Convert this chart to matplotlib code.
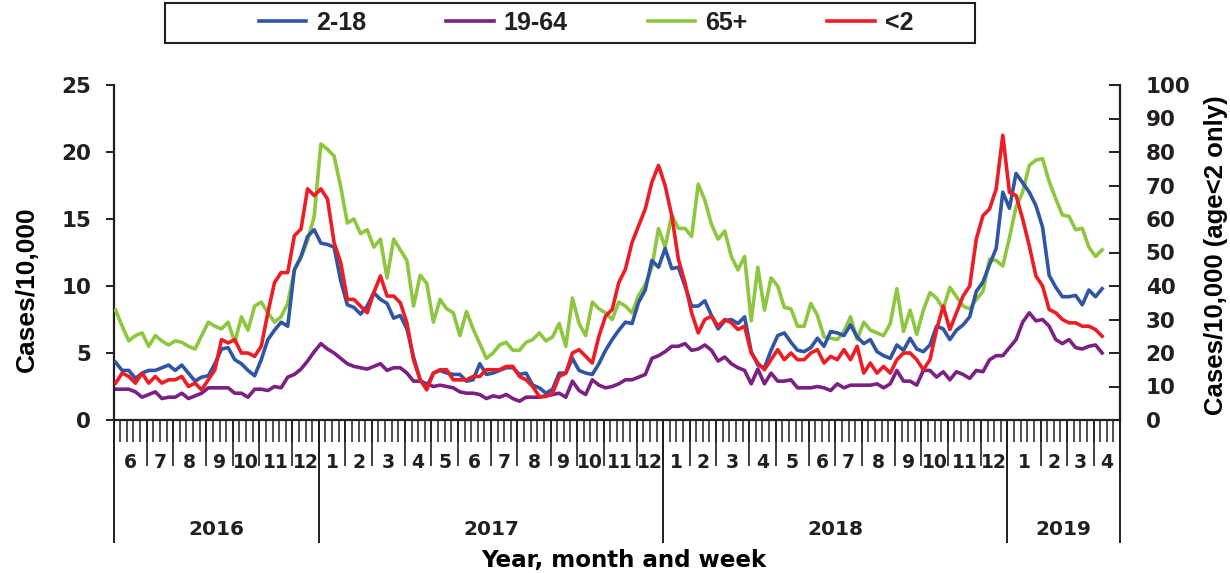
import numpy as np
import matplotlib.pyplot as plt
from matplotlib.patches import Rectangle

# weekly rates, cases per 10,000 (from 2016 week 22)
age_2_18 = [4.3, 3.7, 3.7, 3.1, 3.5, 3.7, 3.7, 3.9, 4.1, 3.7, 4.1, 3.5, 2.9, 3.2, 3.3, 4.2, 5.3, 5.4, 4.5, 4.2,
            3.7, 3.3, 4.5, 6.0, 6.7, 7.3, 7.0, 11.2, 12.2, 13.7, 14.2, 13.2, 13.1, 12.9, 10.4, 8.6, 8.4, 7.9, 8.5,
            9.5, 9.0, 8.7, 7.6, 7.8, 6.8, 4.7, 3.0, 2.5, 3.5, 3.7, 3.5, 3.4, 3.4, 2.9, 3.0, 4.2, 3.4, 3.5, 3.7,
            3.9, 3.9, 3.4, 3.5, 2.6, 2.4, 2.0, 2.3, 3.5, 3.5, 4.6, 3.7, 3.5, 3.4, 4.2, 5.2, 6.0, 6.7,
            7.3, 7.2, 8.8, 9.7, 11.9, 11.4, 12.8, 11.3, 11.4, 10.0, 8.5, 8.5, 8.9, 7.8, 6.8, 7.4, 7.5, 7.2, 7.7,
            5.1, 4.1, 3.9, 5.2, 6.3, 6.5, 5.8, 5.2, 5.1, 5.4, 6.1, 5.5, 6.6, 6.5, 6.3, 7.1, 6.2,
            5.7, 6.0, 5.1, 4.8, 4.6, 5.6, 5.2, 6.1, 5.3, 5.1, 5.6, 7.0, 6.8, 6.0, 6.7, 7.1, 7.7, 9.6, 10.3, 11.6,
            12.8, 17.0, 15.8, 18.4, 17.7, 17.0, 16.0, 14.4, 10.8, 9.9, 9.2, 9.2, 9.3, 8.6, 9.7, 9.2, 9.8]
age_19_64 = [2.3, 2.3, 2.3, 2.1, 1.7, 1.9, 2.1, 1.6, 1.7, 1.7, 2.0, 1.6, 1.8, 2.0, 2.4, 2.4, 2.4, 2.4, 2.0, 2.0,
             1.7, 2.3, 2.3, 2.2, 2.5, 2.4, 3.2, 3.4, 3.8, 4.4, 5.1, 5.7, 5.3, 5.0, 4.6, 4.2, 4.0, 3.9, 3.8,
             4.0, 4.2, 3.7, 3.9, 3.9, 3.5, 2.9, 2.9, 2.7, 2.5, 2.6, 2.5, 2.4, 2.1, 2.0, 2.0, 1.9, 1.6, 1.8, 1.7,
             1.9, 1.6, 1.4, 1.7, 1.7, 1.7, 1.8, 1.9, 2.0, 1.7, 2.9, 2.2, 1.9, 3.0, 2.6, 2.4, 2.5, 2.7,
             3.0, 3.0, 3.2, 3.4, 4.6, 4.8, 5.1, 5.5, 5.5, 5.7, 5.2, 5.3, 5.6, 5.2, 4.4, 4.7, 4.2, 3.9, 3.7,
             2.7, 3.8, 2.7, 3.5, 2.9, 2.9, 3.0, 2.4, 2.4, 2.4, 2.5, 2.4, 2.2, 2.7, 2.4, 2.6, 2.6,
             2.6, 2.6, 2.7, 2.4, 2.7, 3.7, 2.9, 2.9, 2.6, 3.7, 3.7, 3.2, 3.6, 3.0, 3.6, 3.4, 3.1, 3.7, 3.6, 4.5,
             4.8, 4.8, 5.4, 6.0, 7.3, 8.0, 7.4, 7.5, 7.0, 6.0, 5.7, 6.0, 5.4, 5.3, 5.5, 5.6, 5.0]
age_65_plus = [8.2, 7.0, 5.9, 6.3, 6.5, 5.5, 6.3, 5.9, 5.6, 5.9, 5.8, 5.5, 5.3, 6.3, 7.3, 7.0, 6.8, 7.3, 5.8, 7.7,
               6.7, 8.5, 8.8, 8.0, 7.3, 7.7, 8.7, 11.2, 12.1, 13.4, 15.2, 20.6, 20.2, 19.7, 17.4, 14.7, 15.0, 13.9, 14.2,
               12.9, 13.5, 10.6, 13.5, 12.7, 11.9, 8.5, 10.8, 10.2, 7.3, 9.0, 8.3, 8.0, 6.3, 8.1, 6.8, 5.7, 4.6, 5.0, 5.6,
               5.8, 5.2, 5.2, 5.8, 6.0, 6.5, 5.9, 6.2, 7.2, 5.5, 9.1, 7.2, 6.3, 8.8, 8.3, 8.0, 7.5, 8.8,
               8.5, 8.0, 9.3, 10.1, 11.4, 14.3, 12.9, 15.3, 14.3, 14.3, 13.7, 17.6, 16.4, 14.6, 13.5, 14.1, 12.2, 11.2, 12.2,
               7.4, 11.4, 8.2, 10.6, 10.0, 8.4, 8.3, 7.0, 7.0, 8.7, 7.8, 6.2, 6.1, 6.0, 6.6, 7.7, 6.0,
               7.3, 6.7, 6.5, 6.3, 7.2, 9.8, 6.6, 8.2, 6.4, 8.2, 9.5, 9.1, 8.3, 9.9, 9.2, 8.5, 8.3, 9.0, 9.6, 12.0,
               11.9, 11.5, 13.6, 15.9, 17.0, 19.0, 19.4, 19.5, 17.8, 16.5, 15.3, 15.2, 14.2, 14.3, 12.9, 12.2, 12.7]
# <2 is on the right-hand axis
age_under_2 = [11, 14, 13, 11, 14, 11, 13, 11, 12, 12, 13, 10, 11, 9, 12, 15, 24, 23, 24, 20,
               20, 19, 22, 32, 41, 44, 44, 55, 57, 69, 67, 69, 66, 53, 47, 36, 36, 34, 32,
               38, 43, 37, 37, 35, 29, 18, 12, 9, 14, 15, 15, 12, 12, 12, 13, 13, 15, 15, 15,
               16, 16, 13, 12, 10, 7, 7, 8, 13, 14, 20, 21, 19, 17, 25, 31, 33, 41,
               45, 53, 58, 63, 71, 76, 70, 61, 48, 41, 32, 26, 30, 31, 28, 30, 29, 27, 28,
               20, 17, 15, 18, 21, 18, 20, 18, 18, 20, 21, 17, 19, 18, 21, 18, 22,
               14, 17, 14, 16, 14, 18, 20, 20, 18, 15, 18, 27, 34, 27, 32, 37, 40, 54, 61, 63,
               69, 85, 68, 67, 60, 52, 43, 40, 33, 32, 30, 29, 29, 28, 28, 27, 25]

month_labels = ['6', '7', '8', '9', '10', '11', '12',
                '1', '2', '3', '4', '5', '6', '7', '8', '9', '10', '11', '12',
                '1', '2', '3', '4', '5', '6', '7', '8', '9', '10', '11', '12',
                '1', '2', '3', '4']
weeks_per_month = [5, 4, 5, 4, 4, 5, 4,
                   4, 4, 5, 4, 4, 5, 4, 5, 4, 4, 5, 4,
                   4, 4, 5, 4, 5, 4, 4, 5, 4, 4, 5, 4,
                   5, 4, 4, 4]
years = ['2016', '2017', '2018', '2019']
months_per_year = [7, 12, 12, 4]

colors = {'2-18': '#2F55A4', '19-64': '#7B2183', '65+': '#8DC63F', '<2': '#EE1C24'}
ink = '#231F20'

plt.rcParams['font.family'] = 'DejaVu Sans'
plt.rcParams['font.weight'] = 'bold'
plt.rcParams['axes.labelweight'] = 'bold'
plt.rcParams['axes.edgecolor'] = ink
plt.rcParams['xtick.color'] = ink
plt.rcParams['ytick.color'] = ink
plt.rcParams['text.color'] = ink

month_edges = np.concatenate([[0], np.cumsum(weeks_per_month)])
month_centers = (month_edges[:-1] + month_edges[1:]) / 2
year_edges = month_edges[np.concatenate([[0], np.cumsum(months_per_year)])]
year_centers = (year_edges[:-1] + year_edges[1:]) / 2
n_weeks = month_edges[-1]
x = np.arange(len(age_2_18)) + 0.3

fig = plt.figure(figsize=(12.3, 5.73), dpi=100)
ax = fig.add_axes([113.6 / 1230, 1 - 420 / 573, 1006.4 / 1230, 335 / 573])
ax2 = ax.twinx()

lw = 2.6
l1, = ax.plot(x, age_2_18, color=colors['2-18'], lw=lw, label='2-18', zorder=4)
l2, = ax.plot(x, age_19_64, color=colors['19-64'], lw=lw, label='19-64', zorder=2)
l3, = ax.plot(x, age_65_plus, color=colors['65+'], lw=lw, label='65+', zorder=3)
l4, = ax2.plot(x, age_under_2, color=colors['<2'], lw=lw, label='<2')

ax.set_xlim(0, n_weeks)
ax.set_ylim(0, 25)
ax2.set_ylim(0, 100)
ax.set_yticks(np.arange(0, 26, 5))
ax2.set_yticks(np.arange(0, 101, 10))

for a in (ax, ax2):
    a.spines['top'].set_visible(False)
    for s in a.spines.values():
        s.set_linewidth(1.6)
ax.spines['right'].set_visible(False)
ax2.spines['left'].set_visible(False)
ax2.spines['bottom'].set_visible(False)

ax.tick_params(axis='y', direction='out', length=5.8, width=1.4, pad=10.5, labelsize=15.5)
ax2.tick_params(axis='y', direction='in', length=7.6, width=1.4, pad=18.5, labelsize=15.5)

# weekly ticks + month numbers
ax.xaxis.remove_overlapping_locs = False
ax.set_xticks(np.arange(0, n_weeks + 1), minor=True)
ax.set_xticks(month_centers, labels=month_labels)
ax.tick_params(axis='x', which='minor', direction='out', length=15.8, width=1.1)
ax.tick_params(axis='x', which='major', length=0, pad=24, labelsize=13.5)

# month boundaries
sec_m = ax.secondary_xaxis('bottom')
sec_m.set_xticks(month_edges, labels=[])
sec_m.tick_params(axis='x', which='major', length=33, width=1.2)
sec_m.spines['bottom'].set_visible(False)

# year boundaries + year names
sec_y = ax.secondary_xaxis('bottom')
sec_y.xaxis.remove_overlapping_locs = False
sec_y.set_xticks(year_edges, labels=[])
sec_y.set_xticks(year_centers, labels=years, minor=True)
sec_y.tick_params(axis='x', which='major', length=88.5, width=1.4)
sec_y.tick_params(axis='x', which='minor', length=0, pad=72, labelsize=14.5)
sec_y.spines['bottom'].set_visible(False)

ax.set_xlabel('Year, month and week', fontsize=16.6, fontweight='bold')
ax.xaxis.set_label_coords(0.5066, -0.385)

lab_font = {'family': 'Liberation Sans', 'weight': 'bold'}
ax.set_ylabel('Cases/10,000', fontdict=lab_font, fontsize=19, va='center')
ax.yaxis.set_label_coords(-0.086, 0.391)
ax2.set_ylabel('Cases/10,000 (age<2 only)', fontdict=lab_font, fontsize=18.5, va='center')
ax2.yaxis.set_label_coords(1.0955, 0.4925)

fig.patches.append(Rectangle((165 / 1230, 1 - 43 / 573), 810 / 1230, 40 / 573,
                             transform=fig.transFigure, fill=False, lw=1.5, ec=ink))
fig.legend([l1, l2, l3, l4], ['2-18', '19-64', '65+', '<2'], loc='center',
           bbox_to_anchor=(586 / 1230, 1 - 23 / 573), ncol=4, frameon=False,
           prop={'family': 'Liberation Sans', 'weight': 'bold', 'size': 18},
           handlelength=1.9, handletextpad=0.4, columnspacing=3.2)

fig.savefig('out.png', dpi=100)
